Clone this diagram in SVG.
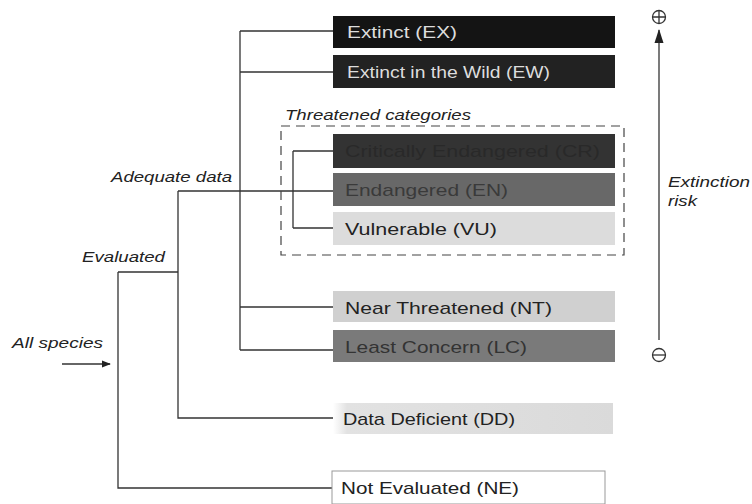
<svg xmlns="http://www.w3.org/2000/svg" width="752" height="504" viewBox="0 0 752 504">
<style>
.lbl{font-family:"Liberation Sans",Arial,sans-serif;font-size:17px}
.it{font-family:"Liberation Sans",Arial,sans-serif;font-size:14.5px;font-style:italic;fill:#222}
.ln{stroke:#333;stroke-width:1.3;fill:none}
</style>
<defs>
<marker id="ah" viewBox="0 0 10 10" refX="9" refY="5" markerWidth="7" markerHeight="7" orient="auto-start-reverse"><path d="M0,1 L10,5 L0,9 Z" fill="#222"/></marker>
<marker id="ahBig" viewBox="0 0 14 10" refX="13" refY="5" markerWidth="11" markerHeight="8" orient="auto"><path d="M0,0.5 L14,5 L0,9.5 Z" fill="#222"/></marker>
<linearGradient id="ddg" x1="0" x2="1" y1="0" y2="0"><stop offset="0" stop-color="#fff"/><stop offset="0.05" stop-color="#e2e2e2"/><stop offset="1" stop-color="#dadada"/></linearGradient>
</defs>
<rect width="752" height="504" fill="#fff"/>
<g id="connectors">
<path class="ln" d="M240,31 V350 M240,31 H333 M240,72 H333 M240,307 H333 M240,350 H333"/>
<path class="ln" d="M178,191 H333 M293,151 V228 M293,151 H333 M293,228 H333"/>
<path class="ln" d="M178,191 V418 H333"/>
<path class="ln" d="M118,272 H178 M118,272 V488 H332"/>
<path class="ln" d="M62,364 H110" marker-end="url(#ah)"/>
</g>
<g id="threatened">
<rect x="281" y="126" width="343" height="129" fill="none" stroke="#444" stroke-width="1.2" stroke-dasharray="9,6"/>
<text class="it" x="285" y="120" textLength="186" lengthAdjust="spacingAndGlyphs">Threatened categories</text>
</g>
<g id="EX"><rect x="333" y="16" width="282" height="32" fill="#141414"/><text class="lbl" x="347" y="38" fill="#ddd" textLength="110" lengthAdjust="spacingAndGlyphs">Extinct (EX)</text></g>
<g id="EW"><rect x="333" y="55" width="282" height="33" fill="#222"/><text class="lbl" x="347" y="78" fill="#ddd" textLength="203" lengthAdjust="spacingAndGlyphs">Extinct in the Wild (EW)</text></g>
<g id="CR"><rect x="333" y="134" width="282" height="34" fill="#333"/><text class="lbl" x="345" y="157" fill="#292929" textLength="255" lengthAdjust="spacingAndGlyphs">Critically Endangered (CR)</text></g>
<g id="EN"><rect x="333" y="173" width="282" height="33" fill="#686868"/><text class="lbl" x="345" y="196" fill="#3a3a3a" textLength="163" lengthAdjust="spacingAndGlyphs">Endangered (EN)</text></g>
<g id="VU"><rect x="333" y="212" width="282" height="33" fill="#dcdcdc"/><text class="lbl" x="345" y="235" fill="#222" textLength="152" lengthAdjust="spacingAndGlyphs">Vulnerable (VU)</text></g>
<g id="NT"><rect x="333" y="291" width="282" height="31" fill="#d0d0d0"/><text class="lbl" x="345" y="314" fill="#222" textLength="207" lengthAdjust="spacingAndGlyphs">Near Threatened (NT)</text></g>
<g id="LC"><rect x="333" y="330" width="282" height="32" fill="#7a7a7a"/><text class="lbl" x="345" y="353" fill="#333" textLength="182" lengthAdjust="spacingAndGlyphs">Least Concern (LC)</text></g>
<g id="DD"><rect x="333" y="403" width="280" height="31" fill="url(#ddg)"/><text class="lbl" x="343" y="425" fill="#222" textLength="172" lengthAdjust="spacingAndGlyphs">Data Deficient (DD)</text></g>
<g id="NE"><rect x="332" y="471" width="273" height="33" fill="#fff" stroke="#999" stroke-width="1"/><text class="lbl" x="341" y="494" fill="#222" textLength="178" lengthAdjust="spacingAndGlyphs">Not Evaluated (NE)</text></g>
<g id="labels">
<text class="it" x="111" y="182" textLength="121" lengthAdjust="spacingAndGlyphs">Adequate data</text>
<text class="it" x="82" y="262" textLength="83" lengthAdjust="spacingAndGlyphs">Evaluated</text>
<text class="it" x="12" y="348" textLength="91" lengthAdjust="spacingAndGlyphs">All species</text>
</g>
<g id="axis">
<path class="ln" d="M659,340 V30" marker-end="url(#ahBig)"/>
<circle cx="659" cy="17" r="6.5" fill="none" stroke="#333" stroke-width="1.3"/>
<path class="ln" d="M652.5,17 H665.5 M659,10.5 V23.5"/>
<circle cx="659" cy="355" r="6.5" fill="none" stroke="#333" stroke-width="1.3"/>
<path class="ln" d="M652.5,355 H665.5"/>
<text class="it" x="668" y="187" textLength="82" lengthAdjust="spacingAndGlyphs">Extinction</text>
<text class="it" x="668" y="206" textLength="29" lengthAdjust="spacingAndGlyphs">risk</text>
</g>
</svg>
